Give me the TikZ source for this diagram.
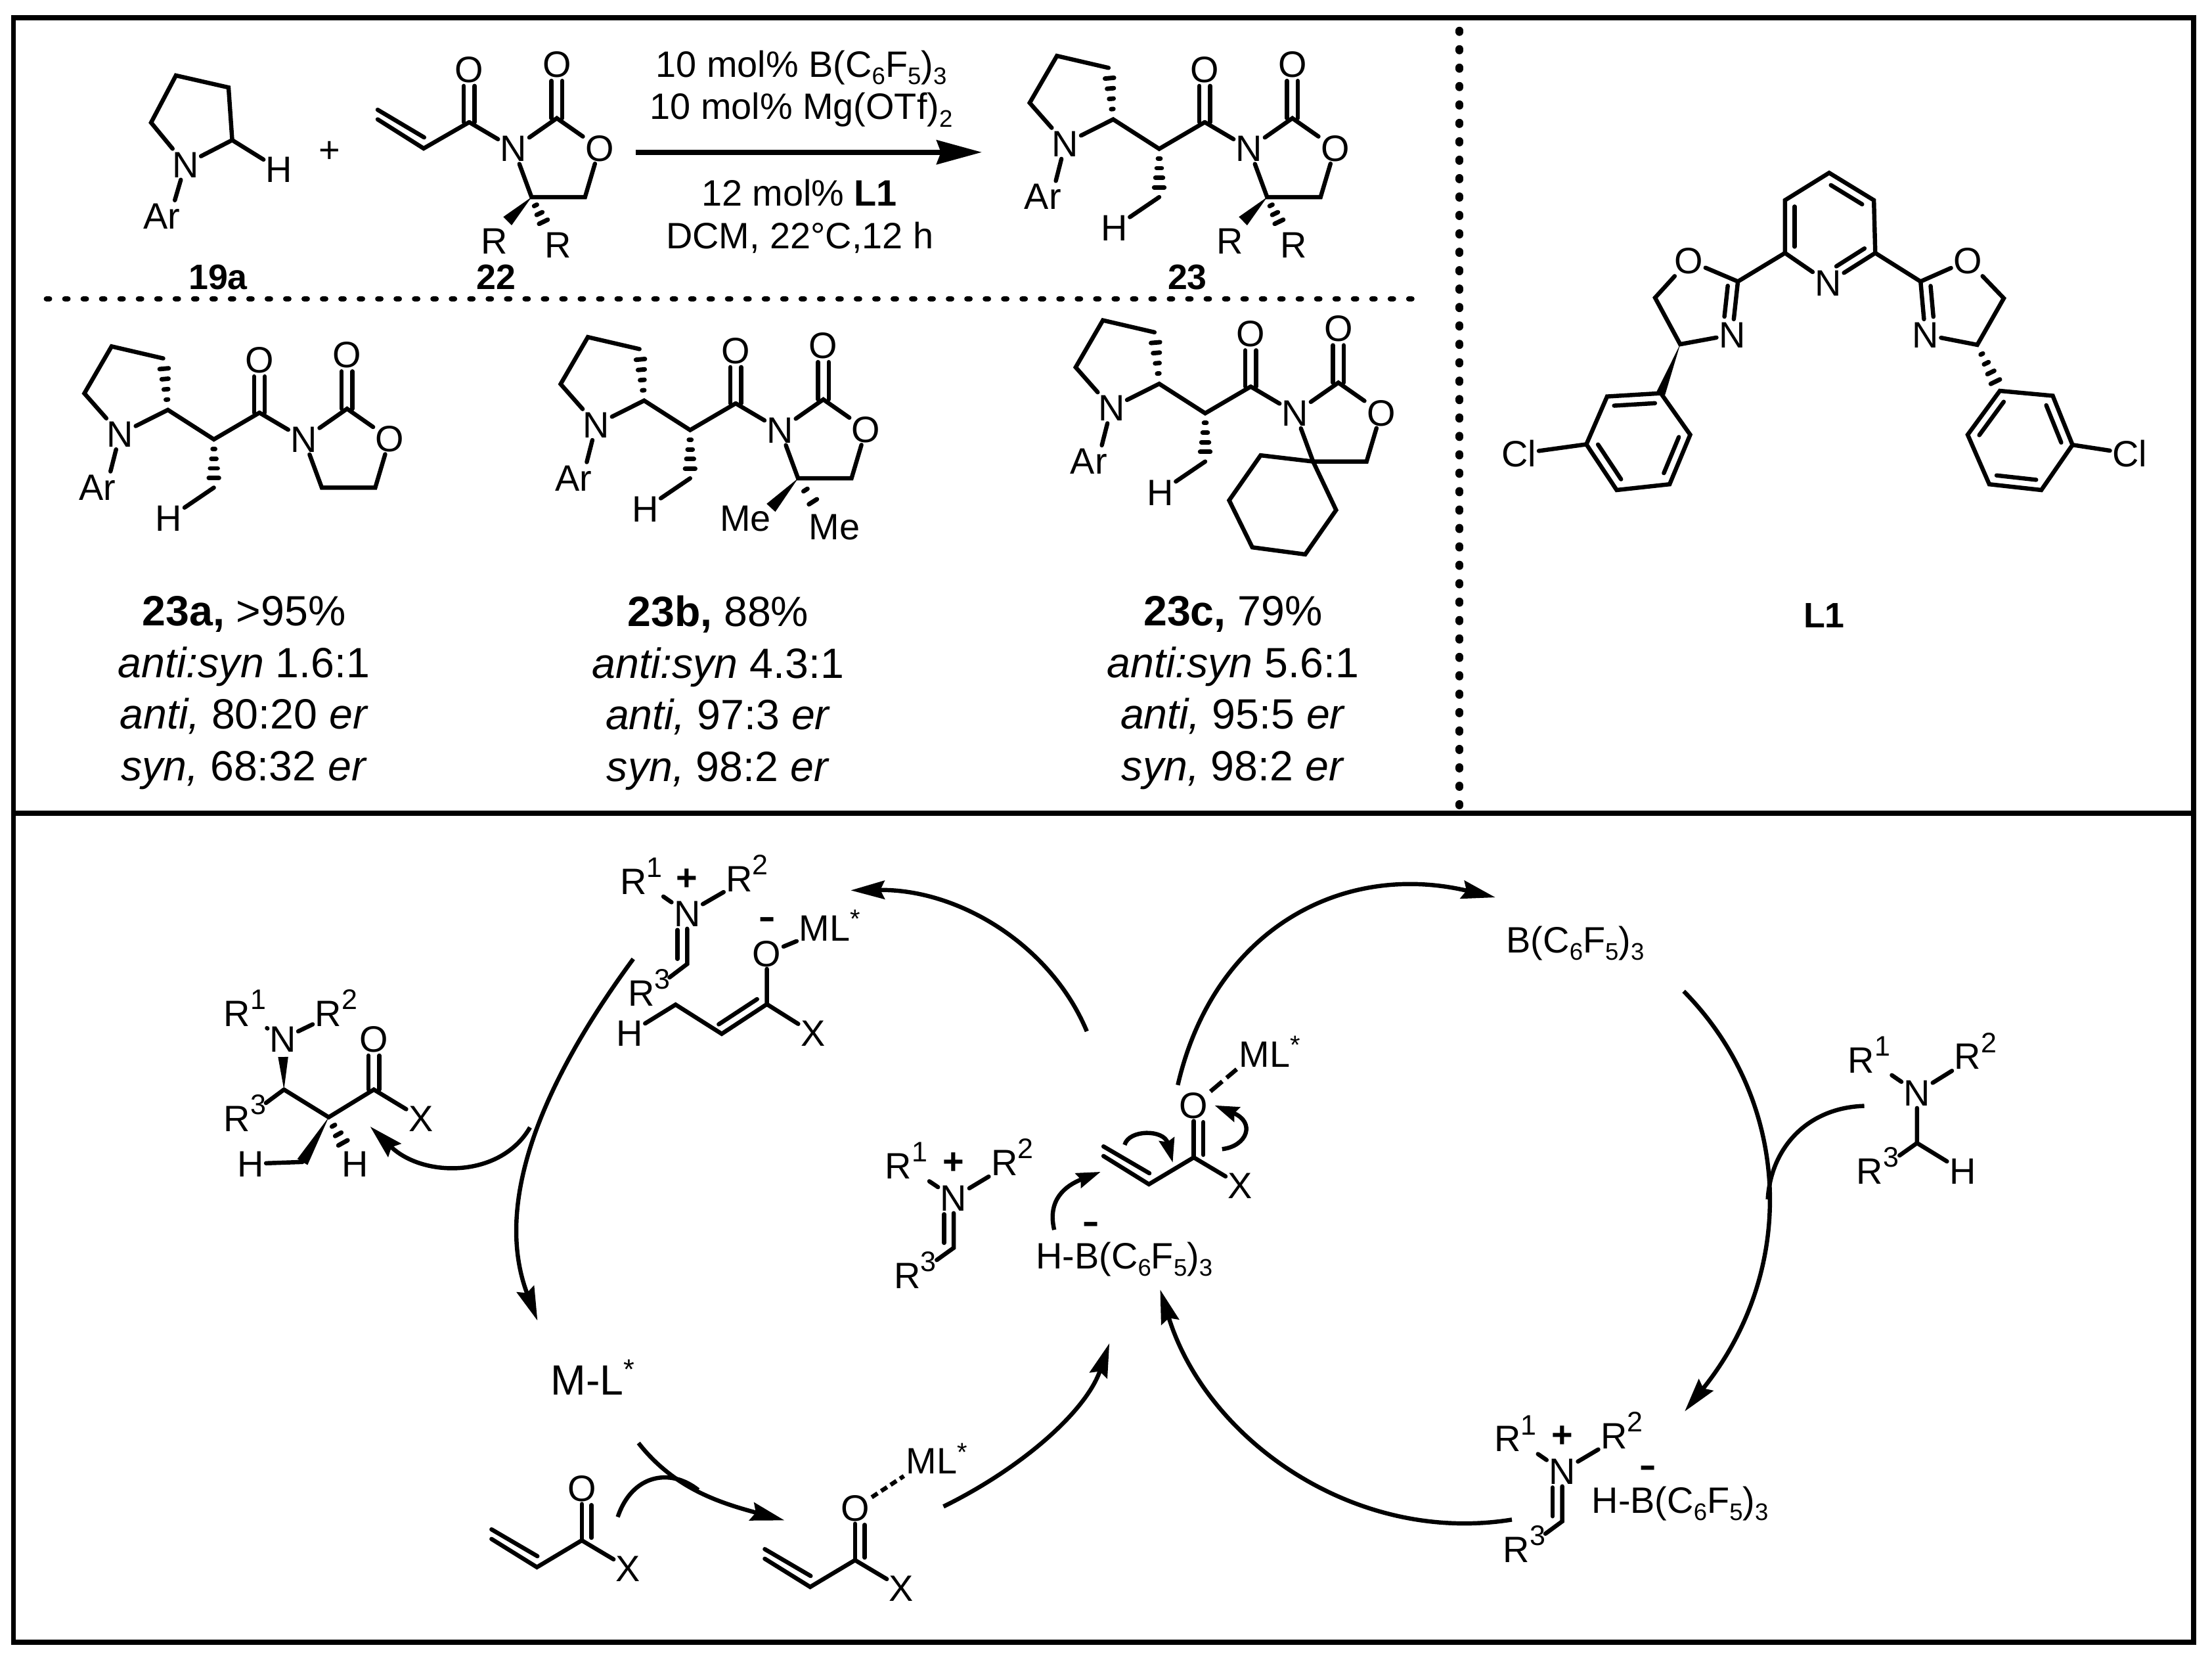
\documentclass[tikz,border=0pt]{standalone}
\usepackage{fontspec}
\setmainfont{Liberation Sans}
\usetikzlibrary{calc,arrows.meta}
\newcommand\sps[1]{\raisebox{12pt}{\fontsize{20}{20}\selectfont #1}}
\newcommand\sbs[1]{\raisebox{-5.3pt}{\fontsize{17}{17}\selectfont #1}}
\newcommand\astr{\raisebox{9pt}{\fontsize{18.5}{19}\selectfont *}}
\tikzset{
  atom/.style={font=\fontsize{26}{28}\selectfont,inner sep=1.5pt,text height=18.6pt,text depth=0pt},
  txt/.style={font=\fontsize{26}{28}\selectfont,inner sep=0pt,anchor=base},
  txtl/.style={font=\fontsize{26}{28}\selectfont,inner sep=0pt,anchor=base west},
  boldlab/.style={font=\fontsize{25}{27}\bfseries\selectfont,inner sep=0pt,text height=18pt,text depth=0pt},
  chgplus/.style={font=\fontsize{26}{26}\bfseries\selectfont,inner sep=0pt,text height=17.2pt,text depth=0pt},
  chgminus/.style={font=\fontsize{38}{38}\selectfont,inner sep=0pt,anchor=base},
  blocktxt/.style={font=\fontsize{30}{36.6}\selectfont,align=center,inner sep=0pt},
  bond/.style={line width=3pt,line cap=round},
  hashbar/.style={line width=3.2pt,line cap=round},
  boxline/.style={line width=3.6pt},
  dotline/.style={line width=4pt,line cap=round,dash pattern=on 2pt off 11.05pt},
  dotvert/.style={line width=5.5pt,line cap=round,dash pattern=on 1pt off 12.05pt},
  mainarrow/.style={line width=3.5pt,-{Stealth[length=32pt,width=17pt,inset=3pt]}},
  cyc/.style={line width=3pt,-{Stealth[length=24pt,width=13pt,inset=3pt]}},
  cycb/.style={line width=3pt},
  mini/.style={line width=3pt,-{Stealth[length=17pt,width=11pt,inset=2pt]}},
  dashb/.style={line width=3pt,dash pattern=on 11pt off 4pt},
  dashc/.style={line width=3pt,dash pattern=on 5pt off 3pt},
}
% inner line of a double bond, on the right-hand side of a->b
\newcommand\inb[4]{\draw[bond] ($(#1)!#3!(#2)!6.8pt!-90:(#2)$) -- ($(#1)!#4!(#2)!6.8pt!-90:(#2)$);}
% symmetric double bond, shortened at the far end
\newcommand\dblb[3]{%
  \draw[bond,shorten >=#3] ($(#1)!3.8pt!90:(#2)$) -- ($(#2)!3.8pt!-90:(#1)$);
  \draw[bond,shorten >=#3] ($(#1)!3.8pt!-90:(#2)$) -- ($(#2)!3.8pt!90:(#1)$);}
\newcommand\wedgeb[3]{\fill ($(#2)!#3!90:(#1)$) -- (#1) -- ($(#2)!#3!-90:(#1)$) -- cycle;}
\newcommand\hashb[4]{\foreach \hI in {1,...,#3}{%
  \pgfmathsetmacro\hT{\hI/(#3+1)}\pgfmathsetmacro\hW{#4*\hT}%
  \draw[hashbar] ($(#1)!\hT!(#2)!\hW pt!90:(#2)$) -- ($(#1)!\hT!(#2)!\hW pt!-90:(#2)$);}}
% N-acyl oxazolidinone, origin at the acyl carbon
\newcommand\oxaz{%
  \coordinate (cc) at (0,0);
  \node[atom] (co) at (0,-37.7) {O};
  \node[atom] (nn) at (31.5,18.6) {N};
  \coordinate (c2) at (62.1,-2.8);
  \node[atom] (o2) at (62.1,-41.3) {O};
  \node[atom] (o1) at (92.4,18.4) {O};
  \coordinate (c5) at (82.1,53.1);
  \coordinate (c4) at (44.2,53.1);
  \draw[bond] (cc)--(nn);
  \draw[bond] (nn)--(c2)--(o1);
  \draw[bond] (o1)--(c5)--(c4)--(nn);
  \dblb{cc}{co}{12pt}
  \dblb{c2}{o2}{12pt}}
% pyrrolidinyl chain on the acyl carbon
\newcommand\chainpart{%
  \coordinate (al) at (-32.3,18.9);
  \coordinate (be) at (-64.9,-2);
  \node[atom] (pn) at (-98.8,15) {N};
  \coordinate (p1) at (-124.1,-13.7);
  \coordinate (p2) at (-104.8,-47);
  \coordinate (p3) at (-68.2,-38.5);
  \node[atom] (ar) at (-114.8,52.6) {Ar};
  \coordinate (me) at (-32.3,53.1);
  \node[atom] (hh) at (-64.2,74.8) {H};
  \draw[bond] (cc)--(al)--(be)--(pn);
  \draw[bond] (pn)--(p1)--(p2)--(p3);
  \draw[bond] (pn)--(ar.50);
  \draw[bond] (me)--(hh);
  \hashb{be}{p3}{4}{4}
  \hashb{al}{me}{4}{4.5}}
% acryloyl group, origin at the carbonyl carbon
\newcommand\acryl{%
  \coordinate (cc) at (0,0);
  \node[atom] (co) at (0,-36.8) {O};
  \node[atom] (xx) at (32.9,19.6) {X};
  \coordinate (ch) at (-31.8,19);
  \coordinate (cht) at (-64,-1);
  \draw[bond] (cht)--(ch)--(cc)--(xx);
  \draw[bond] (cc)--(co);
  \inb{cc}{co}{.05}{.68}
  \inb{ch}{cht}{.1}{1}}
\begin{document}
\begin{tikzpicture}[x=1pt,y=-1pt]
\useasboundingbox (0,0) rectangle (1568,1175);
\fill[white] (0,0) rectangle (1568,1175);
% ---- frames
\coordinate (fa) at (9.6,12.4);
\coordinate (fb) at (1555,1163.9);
\coordinate (ml) at (9.6,576.5);
\coordinate (mr) at (1555,576.5);
\coordinate (va) at (1034.6,21.7);
\coordinate (vb) at (1034.6,573);
\coordinate (ha) at (33,211.8);
\coordinate (hb) at (1003,211.8);
\draw[boxline] (fa) rectangle (fb);
\draw[boxline] (ml) -- (mr);
\draw[dotvert] (va) -- (vb);
\draw[dotline] (ha) -- (hb);
% ---- 19a
\begin{scope}[name prefix=s-]
\coordinate (a1) at (124.7,53.5);
\coordinate (a2) at (162,62);
\coordinate (a3) at (164.6,99.3);
\coordinate (a5) at (107.1,86.9);
\node[atom] (n) at (131.4,116.4) {N};
\node[atom] (h) at (197.9,120) {H};
\node[atom] (ar) at (114.7,152.9) {Ar};
\draw[bond] (n)--(a5)--(a1)--(a2)--(a3)--(n);
\draw[bond] (a3)--(h);
\draw[bond] (n)--(ar.50);
\node[boldlab] (lab) at (154.6,196) {19a};
\end{scope}
\node[chgplus,font=\fontsize{26}{26}\selectfont] (plus) at (233.5,106.6) {+};
% ---- 22
\begin{scope}[shift={(332.6,86.6)},name prefix=t-]
\oxaz
\coordinate (ch) at (-32.3,18.6);
\coordinate (cht) at (-64.9,-2);
\draw[bond] (cht)--(ch)--(cc);
\inb{ch}{cht}{.1}{1}
\coordinate (w) at (27.1,70.1);
\coordinate (hs) at (55.4,76.4);
\wedgeb{c4}{w}{4.2pt}
\hashb{c4}{hs}{3}{4.5}
\node[atom] (r1) at (17.6,84.1) {R};
\node[atom] (r2) at (63.1,86.7) {R};
\node[boldlab] (lab) at (18.9,109.4) {22};
\end{scope}
% ---- conditions and main arrow
\node[txt] (c1) at (568,54.6) {10 mol\% B(C\sbs{6}F\sbs{5})\sbs{3}};
\node[txt] (c2) at (568,84.6) {10 mol\% Mg(OTf)\sbs{2}};
\node[txt] (c3) at (566.6,145.9) {12 mol\% \textbf{L1}};
\node[txt] (c4) at (567,176.1) {DCM, 22°C,12 h};
\coordinate (ra) at (450.6,107.9);
\coordinate (rb) at (696,107.9);
\draw[mainarrow] (ra) -- (rb);
% ---- 23
\begin{scope}[shift={(854,86.6)},name prefix=u-]
\oxaz \chainpart
\coordinate (w) at (27.1,70.1);
\coordinate (hs) at (55.4,76.4);
\wedgeb{c4}{w}{4.2pt}
\hashb{c4}{hs}{3}{4.5}
\node[atom] (r1) at (17.6,84.1) {R};
\node[atom] (r2) at (63.1,86.7) {R};
\node[boldlab] (lab) at (-12.3,109.4) {23};
\end{scope}
% ---- 23a
\begin{scope}[shift={(183.9,292.5)},name prefix=v-]
\oxaz \chainpart
\end{scope}
% ---- 23b
\begin{scope}[shift={(521.5,285.9)},name prefix=w-]
\oxaz \chainpart
\coordinate (w) at (25,74);
\coordinate (hs) at (60,78);
\wedgeb{c4}{w}{4.2pt}
\hashb{c4}{hs}{2}{5}
\node[atom] (r1) at (7,81) {Me};
\node[atom] (r2) at (70,87.3) {Me};
\end{scope}
% ---- 23c
\begin{scope}[shift={(886.6,274)},name prefix=x-]
\oxaz \chainpart
\coordinate (h1) at (7,48.7);
\coordinate (h2) at (-15.3,80.6);
\coordinate (h3) at (1.1,113.9);
\coordinate (h4) at (38.6,118.9);
\coordinate (h5) at (60.5,87.5);
\draw[bond] (c4)--(h1)--(h2)--(h3)--(h4)--(h5)--cycle;
\end{scope}
% ---- data blocks
\node[blocktxt] (d1) at (173,491) {\textbf{23a,} >95\%\\\textit{anti:syn} 1.6:1\\\textit{anti,} 80:20 \textit{er}\\\textit{syn,} 68:32 \textit{er}};
\node[blocktxt] (d2) at (509,491) {\textbf{23b,} 88\%\\\textit{anti:syn} 4.3:1\\\textit{anti,} 97:3 \textit{er}\\\textit{syn,} 98:2 \textit{er}};
\node[blocktxt] (d3) at (874,491) {\textbf{23c,} 79\%\\\textit{anti:syn} 5.6:1\\\textit{anti,} 95:5 \textit{er}\\\textit{syn,} 98:2 \textit{er}};
% ---- L1
\begin{scope}[name prefix=l-]
\coordinate (py1) at (1296.6,122.5);
\coordinate (py2) at (1328.3,141.9);
\coordinate (py3) at (1329.3,179.3);
\node[atom] (pyn) at (1296,200.4) {N};
\coordinate (py5) at (1265.3,179.3);
\coordinate (py6) at (1265.3,141.9);
\draw[bond] (pyn)--(py5)--(py6)--(py1)--(py2)--(py3)--(pyn);
\inb{py1}{py2}{.15}{.85}
\inb{py5}{py6}{.12}{.88}
\inb{py3}{pyn}{.12}{.72}
% left oxazoline
\coordinate (c2a) at (1231.9,199.5);
\node[atom] (oa) at (1197.1,184.7) {O};
\coordinate (c5a) at (1173.2,211);
\coordinate (c4a) at (1191,244);
\node[atom] (na) at (1227.8,237.2) {N};
\draw[bond] (py5)--(c2a)--(oa);
\draw[bond] (oa)--(c5a)--(c4a)--(na);
\draw[bond] (c2a)--(na);
\inb{c2a}{na}{.1}{.68}
\coordinate (a1) at (1177.3,278.7);
\coordinate (a2) at (1139.2,281);
\coordinate (a3) at (1124.5,314.9);
\coordinate (a4) at (1146,347.3);
\coordinate (a5) at (1183.5,343.2);
\coordinate (a6) at (1198.1,308.1);
\draw[bond] (a1)--(a2)--(a3)--(a4)--(a5)--(a6)--cycle;
\wedgeb{c4a}{a1}{3.2pt}
\inb{a2}{a1}{.12}{.88}
\inb{a6}{a5}{.12}{.85}
\inb{a4}{a3}{.12}{.88}
\node[atom] (cla) at (1076.8,321.5) {Cl};
\draw[bond] (a3)--(cla);
% right oxazoline
\coordinate (c2b) at (1361.4,199.5);
\node[atom] (ob) at (1394.8,184.7) {O};
\coordinate (c5b) at (1420.4,211.4);
\coordinate (c4b) at (1401.6,244.4);
\node[atom] (nb) at (1364.8,237.2) {N};
\draw[bond] (py3)--(c2b)--(ob);
\draw[bond] (ob)--(c5b)--(c4b)--(nb);
\draw[bond] (c2b)--(nb);
\inb{nb}{c2b}{.32}{.9}
\coordinate (b1) at (1417.6,277);
\coordinate (b2) at (1455.1,280.5);
\coordinate (b3) at (1469.1,315.3);
\coordinate (b4) at (1447,347.3);
\coordinate (b5) at (1410.1,343.2);
\coordinate (b6) at (1394.8,308.1);
\draw[bond] (b1)--(b2)--(b3)--(b4)--(b5)--(b6)--cycle;
\hashb{c4b}{b1}{4}{4.5}
\inb{b2}{b3}{.12}{.88}
\inb{b4}{b5}{.12}{.88}
\inb{b6}{b1}{.12}{.88}
\node[atom] (clb) at (1509.6,321.5) {Cl};
\draw[bond] (b3)--(clb);
\node[boldlab] (lab) at (1293,436) {L1};
\end{scope}
% ---- product (left of the cycle)
\begin{scope}[name prefix=k-]
\node[atom] (n) at (200.3,736.3) {N};
\node[atom] (r1) at (173.7,717.9) {R\sps{1}};
\node[atom] (r2) at (238.3,717.9) {R\sps{2}};
\coordinate (c3) at (201.3,772.2);
\coordinate (wn) at (200.7,749.1);
\node[atom] (r3) at (173.7,792.7) {R\sps{3}};
\coordinate (al) at (233,791.8);
\coordinate (cc) at (265,772.2);
\node[atom] (o) at (265,736.1) {O};
\node[atom] (x) at (298.3,792.4) {X};
\coordinate (me) at (214.4,823.5);
\node[atom] (h1) at (177.5,824.8) {H};
\node[atom] (h2) at (251.9,824.8) {H};
\coordinate (hs) at (246.5,816);
\draw[bond] (n)--(r1);
\draw[bond] (n)--(r2);
\wedgeb{c3}{wn}{3.6pt}
\draw[bond] (c3)--(r3);
\draw[bond] (c3)--(al)--(cc)--(x);
\dblb{cc}{o}{12pt}
\wedgeb{al}{me}{4.2pt}
\draw[bond] (me)--(h1);
\hashb{al}{hs}{3}{5}
\end{scope}
% ---- iminium / enolate, top
\begin{scope}[name prefix=e-]
\node[atom] (n) at (487.1,647.2) {N};
\node[atom] (r1) at (454.5,624.4) {R\sps{1}};
\node[atom] (r2) at (529.6,622.6) {R\sps{2}};
\node[chgplus] (p) at (487.1,622.6) {+};
\coordinate (c) at (487.1,683.2);
\node[atom] (r3) at (460.1,703.7) {R\sps{3}};
\draw[bond] (n)--(r1);
\draw[bond] (n)--(r2);
\draw[bond] (n)--(c)--(r3);
\inb{n}{c}{.33}{.9}
\node[atom] (o) at (543.6,675.7) {O};
\coordinate (c1) at (543.6,711.7);
\coordinate (c2) at (511.6,732.7);
\coordinate (c3) at (478.9,712);
\node[atom] (x) at (576.2,732.2) {X};
\node[atom] (h) at (446.2,732.2) {H};
\node[atom] (ml) at (588,657.4) {ML\astr};
\node[chgminus] (mi) at (543.6,662) {-};
\draw[bond] (o)--(c1)--(c2)--(c3)--(h);
\draw[bond] (c1)--(x);
\draw[bond] (o)--(ml);
\inb{c1}{c2}{.1}{.95}
\end{scope}
% ---- centre: iminium
\begin{scope}[name prefix=f-]
\node[atom] (n) at (676,848.8) {N};
\node[atom] (r1) at (642.4,826.2) {R\sps{1}};
\node[atom] (r2) at (717.5,823.9) {R\sps{2}};
\node[chgplus] (p) at (676,823.5) {+};
\coordinate (c) at (676,884.4);
\node[atom] (r3) at (648.7,904) {R\sps{3}};
\draw[bond] (n)--(r1);
\draw[bond] (n)--(r2);
\draw[bond] (n)--(c)--(r3);
\inb{n}{c}{.33}{.9}
\end{scope}
% ---- centre: hydride and acrylate
\node[txtl] (hb1) at (734.2,899.2) {H-B(C\sbs{6}F\sbs{5})\sbs{3}};
\node[chgminus] (hb1m) at (773.4,877.8) {-};
\begin{scope}[shift={(846.2,820.3)},name prefix=g-]
\acryl
\node[atom] (ml) at (53.8,-73.5) {ML\astr};
\draw[dashb] (co)--(ml.south west);
\coordinate (a1s) at (-49,-8.9);
\coordinate (a1e) at (-14.9,3.6);
\draw[mini] (a1s) .. controls (-46,-20) and (-21,-20) .. (a1e);
\coordinate (a2s) at (20.1,-5.9);
\coordinate (a2e) at (14.8,-36.9);
\draw[mini] (a2s) .. controls (38,-8) and (44,-25) .. (a2e);
\coordinate (a3s) at (-98.9,51.3);
\coordinate (a3e) at (-66,10.2);
\draw[mini] (a3s) .. controls (-104,30) and (-91,20) .. (a3e);
\end{scope}
% ---- B(C6F5)3
\node[txtl] (bcf) at (1067.6,675.2) {B(C\sbs{6}F\sbs{5})\sbs{3}};
% ---- amine, right
\begin{scope}[name prefix=j-]
\node[atom] (n) at (1358.9,774.3) {N};
\node[atom] (r1) at (1325,751) {R\sps{1}};
\node[atom] (r2) at (1400.3,748.6) {R\sps{2}};
\coordinate (c) at (1358.9,810.1);
\node[atom] (h) at (1391.2,829.9) {H};
\node[atom] (r3) at (1331,829.9) {R\sps{3}};
\draw[bond] (n)--(r1);
\draw[bond] (n)--(r2);
\draw[bond] (n)--(c)--(h);
\draw[bond] (c)--(r3);
\end{scope}
% ---- iminium borohydride, bottom right
\begin{scope}[name prefix=i-]
\node[atom] (n) at (1107.4,1042.4) {N};
\node[atom] (r1) at (1074.3,1019.5) {R\sps{1}};
\node[atom] (r2) at (1149.6,1017.4) {R\sps{2}};
\node[chgplus] (p) at (1107.4,1017.4) {+};
\coordinate (c) at (1107.4,1078.2);
\node[atom] (r3) at (1080.5,1098) {R\sps{3}};
\draw[bond] (n)--(r1);
\draw[bond] (n)--(r2);
\draw[bond] (n)--(c)--(r3);
\inb{n}{c}{.33}{.9}
\node[chgminus] (mi) at (1168.1,1050.3) {-};
\node[txtl] (hb) at (1128.2,1072.4) {H-B(C\sbs{6}F\sbs{5})\sbs{3}};
\end{scope}
% ---- M-L*
\node[txtl,font=\fontsize{30}{32}\selectfont] (mlc) at (390.2,988.5) {M-L\raisebox{11pt}{\fontsize{20}{20}\selectfont *}};
% ---- bottom acrylates
\begin{scope}[shift={(412.4,1091.7)},name prefix=b-]
\acryl
\end{scope}
\begin{scope}[shift={(606.1,1105.7)},name prefix=d-]
\acryl
\node[atom] (ml) at (58,-70.6) {ML\astr};
\draw[dashc] (co)--(ml.south west);
\end{scope}
% ---- catalytic-cycle arrows
\coordinate (A1) at (770.4,730.9);  \coordinate (A2) at (603,631);
\draw[cyc] (A1) .. controls (745,670) and (680,630) .. (A2);
\coordinate (B1) at (448.9,679.6);  \coordinate (B2) at (381,936);
\draw[cyc] (B1) .. controls (375,780) and (352,860) .. (B2);
\coordinate (C1) at (375.7,799);    \coordinate (C2) at (262.4,798.4);
\draw[cyc] (C1) .. controls (355,835) and (300,835) .. (C2);
\coordinate (D1) at (834.9,769);    \coordinate (D2) at (1060,636);
\draw[cyc] (D1) .. controls (860,660) and (950,610) .. (D2);
\coordinate (E1) at (1193.5,702.5); \coordinate (E2) at (1194.2,1000.3);
\draw[cyc] (E1) .. controls (1270,780) and (1275,900) .. (E2);
\coordinate (F1) at (1321.5,783.8); \coordinate (F2) at (1253.1,850);
\draw[cycb] (F1) .. controls (1280,785) and (1255,815) .. (F2);
\coordinate (G1) at (1071.7,1077);  \coordinate (G2) at (822.4,914);
\draw[cyc] (G1) .. controls (960,1095) and (855,1020) .. (G2);
\coordinate (H1) at (668.8,1067.7); \coordinate (H2) at (786.4,952);
\draw[cyc] (H1) .. controls (725,1040) and (770,1000) .. (H2);
\coordinate (I1) at (452.6,1022.7); \coordinate (I2) at (556.1,1077.5);
\draw[cyc] (I1) .. controls (478,1055) and (510,1065) .. (I2);
\coordinate (J1) at (437.9,1075.1); \coordinate (J2) at (495,1056);
\draw[cycb] (J1) .. controls (448,1045) and (475,1040) .. (J2);
\end{tikzpicture}
\end{document}
